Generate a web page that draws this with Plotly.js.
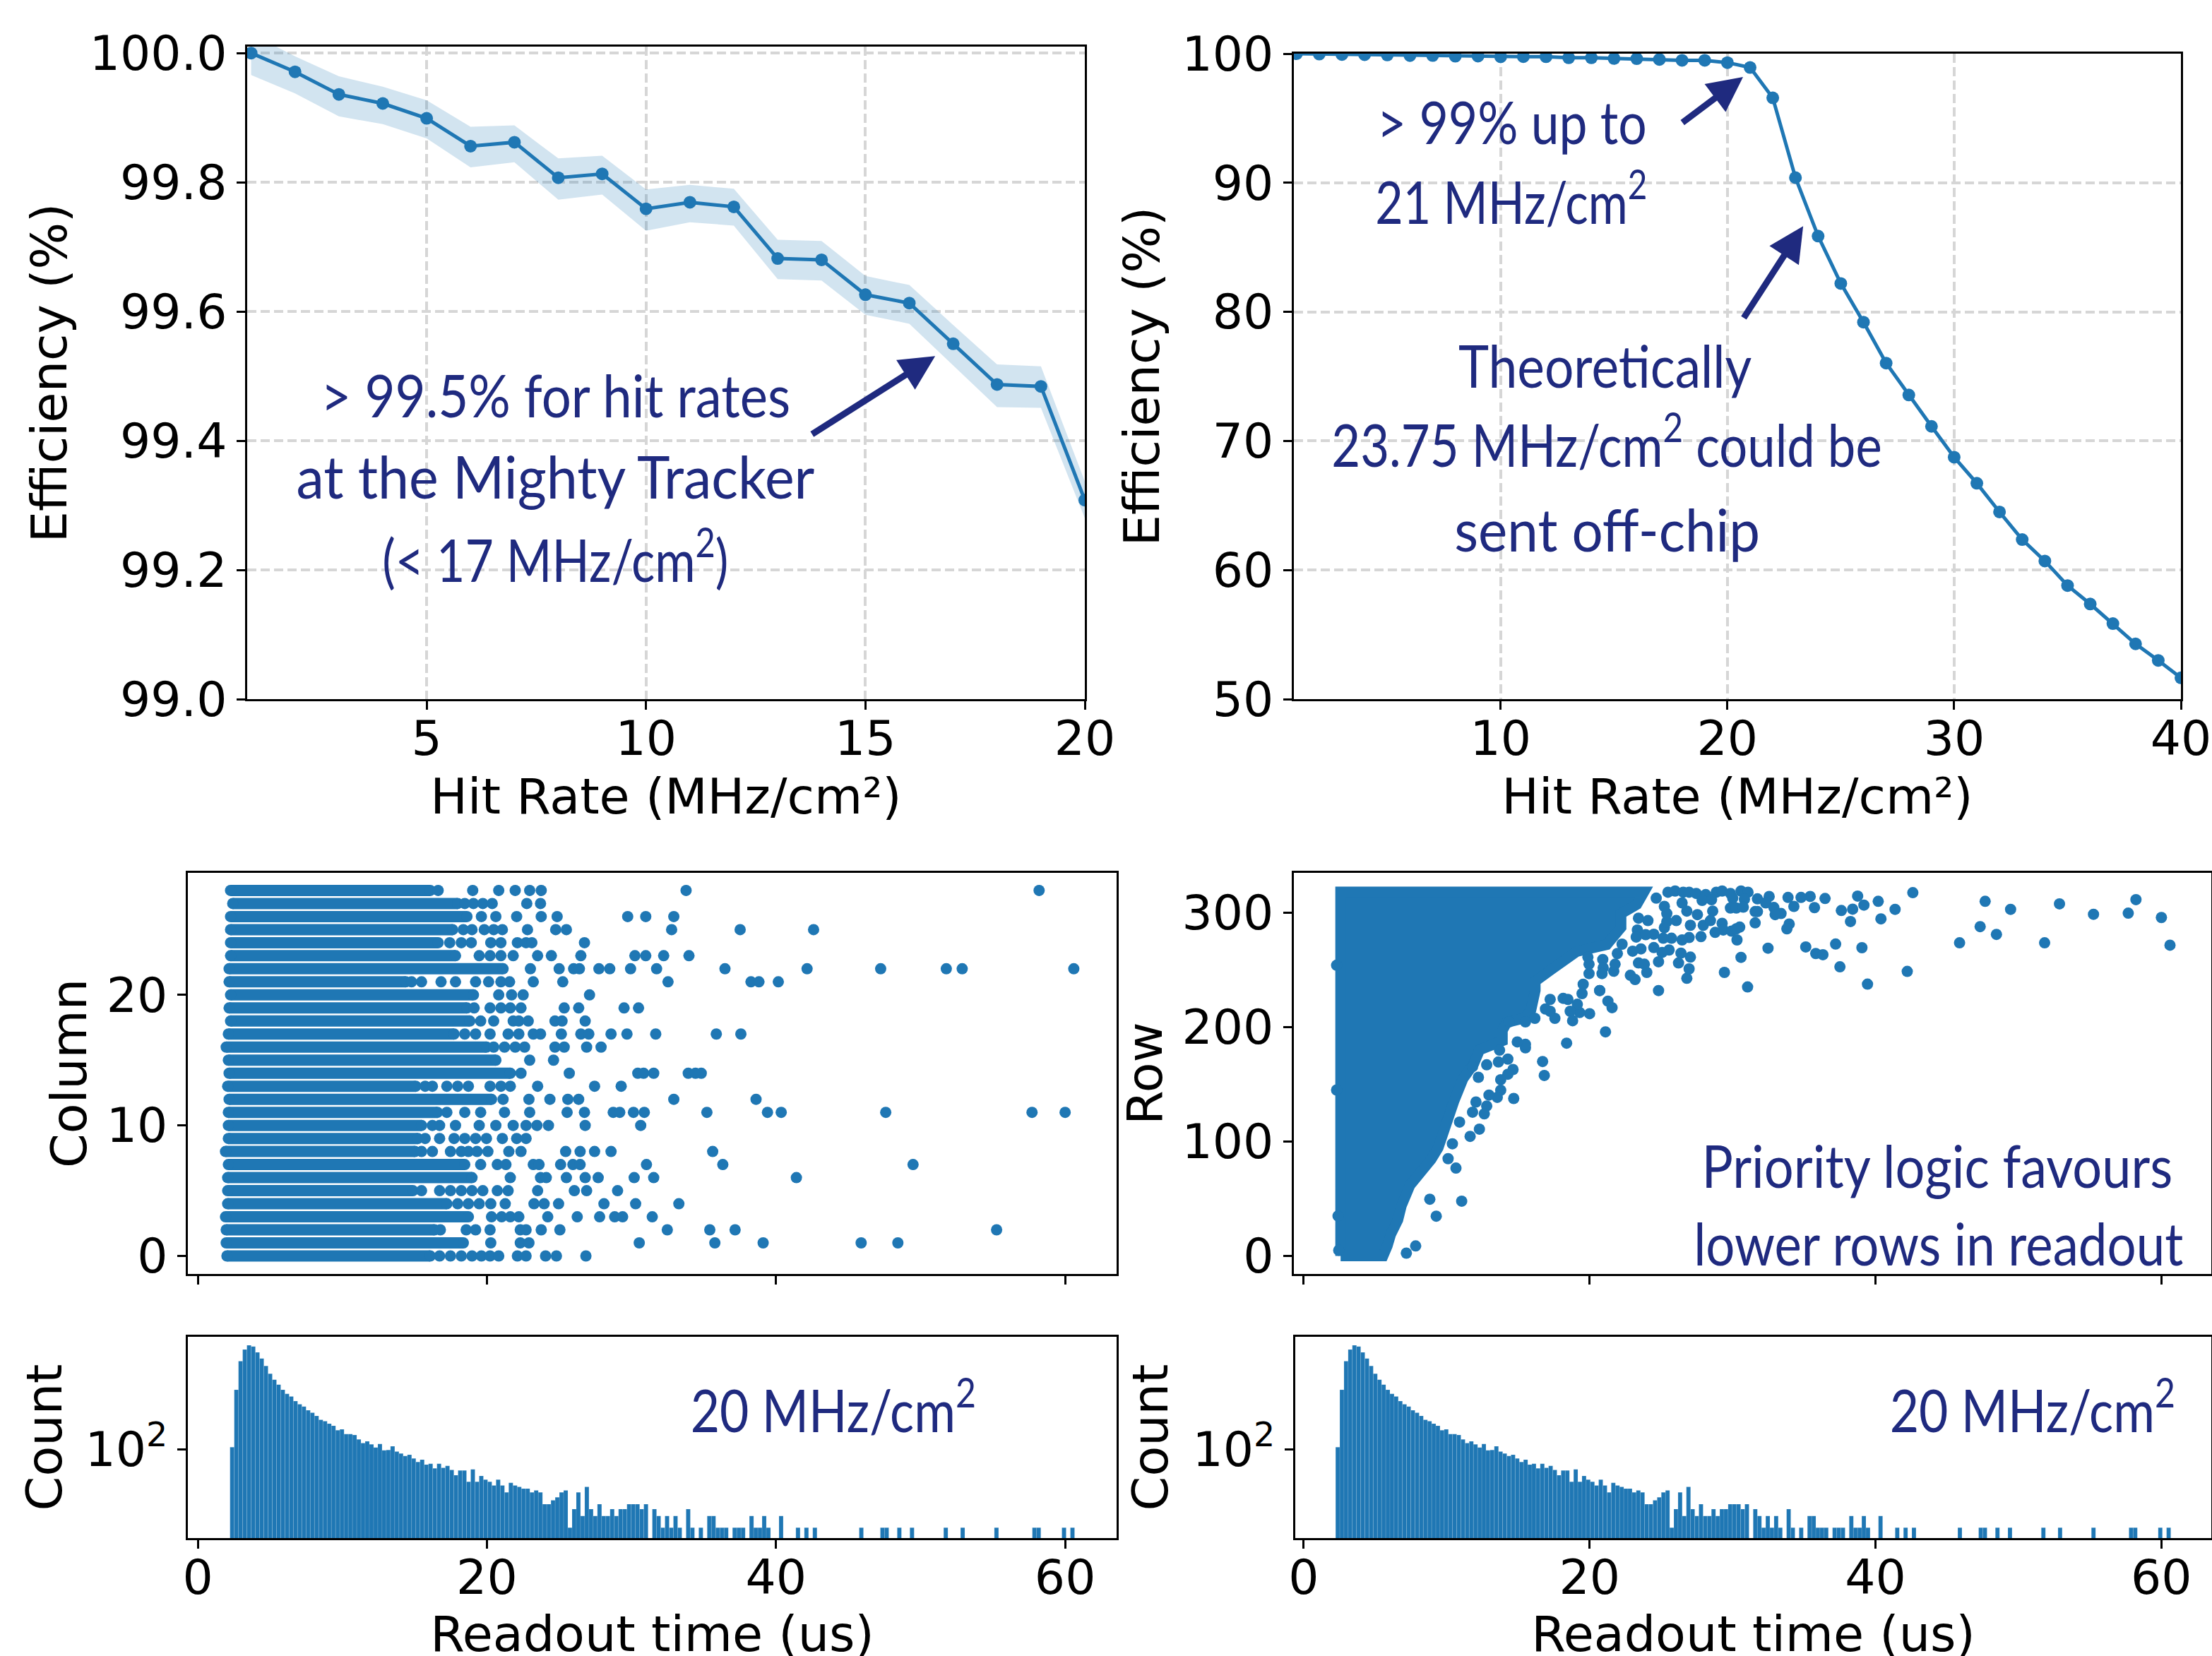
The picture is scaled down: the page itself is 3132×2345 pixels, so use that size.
<!DOCTYPE html>
<html>
<head>
<meta charset="utf-8">
<script src="https://cdn.plot.ly/plotly-3.0.1.min.js"></script>
<style>html,body{margin:0;padding:0;background:#fff}#chart{width:3132px;height:2345px}
.g-x5title text,.g-x6title text{transform:translateY(10px)}</style>
</head>
<body>
<div id="chart"></div>
<script>
// ---- Efficiency panels ----
const rateLow = [1,2,3,4,5,6,7,8,9,10,11,12,13,14,15,16,17,18,19,20];
const effLow = [100.0,99.971,99.936,99.922,99.899,99.856,99.862,99.807,99.813,99.759,99.769,99.762,99.682,99.680,99.626,99.613,99.550,99.487,99.484,99.308];
const effLowUpper = [100.03,99.995,99.964,99.948,99.927,99.886,99.888,99.837,99.841,99.789,99.796,99.79,99.711,99.709,99.655,99.641,99.579,99.518,99.515,99.337];
const effLowLower = [99.966,99.9375,99.902,99.89,99.868,99.823,99.831,99.773,99.781,99.725,99.738,99.733,99.65,99.648,99.595,99.581,99.517,99.452,99.451,99.28];
const rateHigh = [1,2,3,4,5,6,7,8,9,10,11,12,13,14,15,16,17,18,19,20,21,22,23,24,25,26,27,28,29,30,31,32,33,34,35,36,37,38,39,40];
const effHigh = [100.0,99.971,99.936,99.922,99.899,99.856,99.862,99.807,99.813,99.759,99.769,99.762,99.682,99.680,99.626,99.613,99.550,99.487,99.484,99.308,98.93,96.58,90.4,85.87,82.2,79.2,76.03,73.56,71.13,68.74,66.72,64.5,62.36,60.7,58.8,57.37,55.85,54.28,53.0,51.65];

// ---- Column vs readout time ----
const columns = [0,1,2,3,4,5,6,7,8,9,10,11,12,13,14,15,16,17,18,19,20,21,22,23,24,25,26,27,28];
const colDenseStart = [2.02,1.97,1.97,1.92,2.07,2.07,2.07,2.12,1.92,2.12,2.12,2.12,2.17,2.07,2.17,2.12,1.97,2.12,2.27,2.17,2.27,2.17,2.17,2.27,2.27,2.27,2.27,2.42,2.27];
const colDenseEnd = [16.08,18.37,16.38,18.72,17.23,14.88,18.97,18.47,15.03,15.23,15.48,16.58,20.32,15.08,21.62,20.62,19.97,17.73,18.82,18.62,19.07,14.39,21.12,17.83,16.63,17.63,18.62,17.98,16.08];
const colOutliers = [
 [16.73,17.48,18.23,18.97,19.62,20.22,20.82,22.11,22.71,24.06,24.81,26.85],
 [20.27,22.31,22.91,30.54,35.77,39.11,45.89,48.43],
 [16.78,18.57,19.22,20.22,22.31,22.71,23.76,25.05,32.48,35.42,37.17,55.26],
 [20.32,21.02,21.62,22.21,24.21,26.25,27.8,28.84,29.39,31.44],
 [17.98,18.72,19.47,20.27,21.27,23.26,23.96,24.96,28.1,30.29,33.28],
 [15.48,16.73,17.48,18.23,18.97,19.72,20.72,21.47,23.51,26.05,26.9,29.04],
 [21.62,23.71,24.11,25.5,26.8,27.7,30.19,31.54,41.41],
 [19.57,20.72,21.32,23.21,23.61,25.1,25.95,26.45,31.04,36.32,49.48],
 [15.48,16.23,17.48,18.23,18.72,19.32,20.07,21.52,22.36,25.45,26.45,27.45,28.59,35.62],
 [15.73,16.73,17.73,18.47,19.22,19.97,21.07,22.06,22.71],
 [16.23,16.73,17.83,19.47,20.62,21.82,22.71,23.46,24.26,26.8,30.64],
 [17.23,18.47,19.57,21.22,22.96,25.55,26.75,28.74,29.19,30.14,30.89,35.22,39.41,40.36,47.59,57.71,60.0],
 [21.12,22.91,24.36,25.6,26.35,32.93,38.62],
 [15.73,16.23,17.23,17.98,18.72,20.22,20.97,21.62,23.51,27.45,29.29],
 [22.36,25.7,30.44,30.84,31.54,33.93,34.43,34.83],
 [22.96,24.61],
 [20.47,21.22,21.96,22.61,24.71,25.35,26.9,27.9],
 [18.47,19.22,20.22,21.47,22.21,23.21,23.71,25.15,26.5,27.05,28.59,29.69,31.68,35.87,37.57],
 [19.57,20.47,21.82,22.21,22.86,24.71,25.2,26.8],
 [19.12,20.22,20.97,21.62,22.36,25.35,26.35,29.49,30.49],
 [20.82,21.71,22.51,27.1],
 [14.79,15.48,16.83,17.83,19.22,20.12,20.97,21.57,23.21,25.25,32.53,38.27,38.82,40.16],
 [23.01,25.0,26.0,26.4,27.75,28.5,29.94,31.74,36.47,42.15,47.24,51.78,52.88,60.6],
 [19.47,20.22,20.97,21.82,23.51,24.46,26.5,30.24,30.99,32.23,33.98],
 [17.43,18.23,18.92,20.27,20.97,22.11,22.71,23.11,26.75],
 [18.37,18.97,19.82,20.47,21.07,22.81,24.76,25.5,32.78,37.52,42.6],
 [19.62,20.62,22.06,23.76,24.86,29.74,30.99,32.93],
 [18.47,19.07,19.72,20.37,22.76,23.71],
 [16.63,19.02,20.82,21.96,22.96,23.76,33.78,58.2]
];

// ---- Row vs readout time ----
const rowDenseEdgeTime = [2.58,5.55,5.85,6.09,6.59,6.84,7.43,8.18,8.92,9.41,9.66,10.01,10.5,11.15,11.9,12.3,13.9,13.9,14.2,15.5,15.9,16.2,16.2,17.3,18.3,19.1,21.2,22.2,22.2,23.3,23.8,2.58,2.58];
const rowDenseEdgeRow = [0,0,8.8,18.9,31.5,44.1,61.7,71.8,84.4,94.5,104.5,117.1,134.8,154.9,168,180,188,197,204,208,215,232,240,250,258,266,272,287,299,307,318,318,0];
const rowPointTime = [42.61,38.75,40.19,39.19,36.47,35.43,35.73,37.61,38.4,41.37,38.25,40.38,47.67,49.45,52.87,55.25,57.68,58.22,60.0,60.6,47.32,48.46,45.88,51.83,37.21,39.05,35.82,36.32,37.51,42.22,39.44,11.05,9.27,8.82,7.83,7.18,10.65,12.29,11.64,10.9,10.4,10.1,2.3,2.3,2.4,2.45,
 25.48,25.98,26.55,26.96,27.46,28.12,28.86,29.27,29.85,30.59,31.08,31.74,32.56,33.88,34.79,27.87,28.53,30.01,30.83,32.32,32.89,33.39,32.98,34.29,31.58,31.74,29.85,30.26,30.75,28.61,26.8,26.47,26.06,27.05,27.54,27.95,28.45,29.27,28.78,29.35,29.93,30.5,30.26,31.58,33.96,33.8,27.79,26.96,26.47,25.73,25.15,25.23,25.4,24.49,23.34,23.26,23.92,30.31,32.48,35.12,30.59,29.43,31.05,26.8,26.96,27.05,26.39,26.22,24.82,25.56,25.07,24.49,23.59,23.01,23.42,23.83,24.0,22.85,23.18,21.69,21.78,20.92,20.95,20.87,19.96,19.96,19.88,20.71,24.82,19.55,24.66,25.23,25.4,24.08,23.42,22.27,21.94,
 20.7,21.28,21.57,21.11,18.39,16.71,16.83,20.0,19.3,19.14,18.64,18.81,17.57,17.24,16.91,17.24,18.15,18.48,19.47,15.51,15.51,14.94,14.28,13.62,14.64,14.28,13.78,13.78,13.54,12.96,14.69,12.8,12.63,11.81,12.05,12.22,12.8,11.81,16.17,15.51,14.36,13.7];
const rowPointRow = [317.4,314.4,309.8,306.5,312.3,314.1,304.3,301.8,303,302.8,292.2,294.5,309.8,302.8,307.6,298.5,299.5,311.3,295.7,271.5,287.7,280.9,273.6,273.6,272.5,269.3,264.2,263.2,252.6,248.6,237.5,47.9,34.8,49.6,8.8,2.5,76.8,110.8,104.5,117,98,85,254,145,35,5,
 317.8,318.8,317.8,317.8,316.7,315.7,317.8,318.8,316.7,318.8,317.8,312,314.1,313.2,313.2,310.6,311.2,312.6,311.6,308.5,304.4,299.2,298.2,305.4,300.9,300.9,304,304,304.8,301.3,301.3,308.5,293,288.9,298.2,288.9,293,290.6,282.7,284.8,283.8,287.3,285.8,291,290,285.8,279,278.2,276.1,277.6,277.6,286.9,292,281.1,284.8,278.6,280.7,276.1,268.9,270,260.9,247.7,235,242.6,250.8,261.1,264.6,256,257,267.3,265.2,269.4,268.3,266.3,256,254.9,247.7,245.2,241.5,248.8,254.9,259,251.8,246.7,246.7,254.9,261.1,231.9,231.9,237.4,312.6,305.4,299.2,293,295.1,272.4,264.2,
 231.9,222.6,216.9,195.8,185.9,169.9,157.7,211.7,212.7,219.9,213.8,205.5,207.6,213.8,215.8,224.1,225.1,224.1,229.2,181.8,184.9,187,172,169.5,162.9,158.8,154,144.8,138.6,140.6,137.6,131,124.2,125.6,134.5,156.1,167,165.4,207.6,204.5,204.5,179.8];

// ---- Readout-time histogram (200 bins, first left edge 2.233 us, width 0.2921 us) ----
const histFirstEdge = 2.233;
const histBinWidth = 0.2921;
const histCounts = [114,3340,18100,35700,45800,42700,30300,21100,13600,8600,6080,4540,3340,2640,2270,1720,1430,1250,1000,870,718,575,530,455,402,309,326,248,248,234,180,146,161,135,112,138,95,97,120,88,79,68,73,59,48,55,41,43,33,43,
 34,38,30,22,29,29,15,31,15,21,17,15,12,17,12,8,14,12,11,10,10,8,9,8,4,4,5,6,8,9,1,3,8,2,11,3,2,4,2,2,3,2,3,3,4,4,4,3,
 4,0,3,2,1,2,1,2,1,0,3,1,0,1,0,2,2,1,1,1,0,1,1,1,0,2,1,1,2,1,0,0,2,0,0,0,1,0,1,0,1,
 0,0,0,0,0,0,0,0,0,0,1,0,0,0,0,1,1,0,0,1,0,0,1,0,0,0,0,0,0,0,1,0,0,0,1,0,0,0,0,0,0,0,1,0,0,0,0,0,0,0,0,1,1,0,0,0,0,0,1,0,1];

// ---- Tick labels ----
const ticksRateLow = [5,10,15,20];
const ticksEffLow = [99.0,99.2,99.4,99.6,99.8,100.0];
const ticksRateHigh = [10,20,30,40];
const ticksEffHigh = [50,60,70,80,90,100];
const ticksTime = [0,20,40,60];
const ticksColumn = [0,10,20];
const ticksRow = [0,100,200,300];
const ticksCount = [100];
const tickTextCount = ['10<sup>2</sup>'];

// ---- Handwritten notes ----
const noteTexts = ['> 99.5% for hit rates','at the Mighty Tracker','(< 17 MHz/cm<sup>2</sup>)','> 99% up to','21 MHz/cm<sup>2</sup>','Theoretically','23.75 MHz/cm<sup>2</sup> could be','sent off-chip','Priority logic favours','lower rows in readout','20 MHz/cm<sup>2</sup>','20 MHz/cm<sup>2</sup>'];

// ---- Presentation ----
const notePlacement = [[786,558,.885],[786,673,.94],[786,786,.83],[2140,171,.85],[2140,279,.81],[2272,517,.87],[2275,624,.84],[2275,748,.93],[2743,1649,.88],[2744,1759,.865],[1180,1990,.85],[2878,1990,.85]];
const noteColor = '#1f2a7f';
const W = 3132, H = 2345;
const blue = '#1f77b4';
const fontFamily = '"DejaVu Sans", sans-serif';
const dotSize = 16;

function dom(a, b, size, flip) { return flip ? [1 - b / size, 1 - a / size] : [a / size, b / size]; }

function axis(opts) {
  return Object.assign({
    showline: true, mirror: true, linecolor: '#000', linewidth: 3,
    ticks: 'outside', ticklen: 12, tickwidth: 3, tickcolor: '#000',
    tickmode: 'array', zeroline: false, showgrid: false,
    tickfont: {family: fontFamily, size: 68, color: '#000'}, automargin: false
  }, opts);
}
const grid = {showgrid: true, gridcolor: '#d6d6d6', gridwidth: 4, griddash: '13px,6px'};
function ttl(text, standoff) { return {text: text, standoff: standoff, font: {family: fontFamily, size: 70, color: '#000'}}; }

const traces = [];
traces.push({x: rateLow.concat(rateLow.slice().reverse()), y: effLowUpper.concat(effLowLower.slice().reverse()),
  type: 'scatter', mode: 'lines', fill: 'toself', fillcolor: 'rgba(31,119,180,0.2)', line: {width: 0}, xaxis: 'x', yaxis: 'y', hoverinfo: 'skip'});
traces.push({x: rateLow, y: effLow, type: 'scatter', mode: 'lines+markers', line: {color: blue, width: 5}, marker: {color: blue, size: 18}, xaxis: 'x', yaxis: 'y'});
traces.push({x: rateHigh, y: effHigh, type: 'scatter', mode: 'lines+markers', line: {color: blue, width: 5}, marker: {color: blue, size: 18}, xaxis: 'x2', yaxis: 'y2'});
const bandX = [], bandY = [], dotX = [], dotY = [];
columns.forEach((c, i) => {
  bandX.push(colDenseStart[i], colDenseEnd[i], null);
  bandY.push(c, c, null);
  colOutliers[i].forEach(t => { dotX.push(t); dotY.push(c); });
});
traces.push({x: bandX, y: bandY, type: 'scatter', mode: 'lines+markers', line: {color: blue, width: dotSize}, marker: {color: blue, size: dotSize}, xaxis: 'x3', yaxis: 'y3'});
traces.push({x: dotX, y: dotY, type: 'scatter', mode: 'markers', marker: {color: blue, size: dotSize}, xaxis: 'x3', yaxis: 'y3'});
traces.push({x: rowDenseEdgeTime, y: rowDenseEdgeRow, type: 'scatter', mode: 'lines', fill: 'toself', fillcolor: blue, line: {color: blue, width: 15, shape: 'linear'}, xaxis: 'x4', yaxis: 'y4'});
traces.push({x: rowPointTime, y: rowPointRow, type: 'scatter', mode: 'markers', marker: {color: blue, size: dotSize}, xaxis: 'x4', yaxis: 'y4'});
const histX = histCounts.map((_, i) => histFirstEdge + (i + 0.5) * histBinWidth);
const histY = histCounts.map(v => v > 0 ? v : null);
[['x5', 'y5'], ['x6', 'y6']].forEach(a => {
  traces.push({x: histX, y: histY, type: 'bar', width: histBinWidth, marker: {color: blue, line: {color: 'rgba(255,255,255,0.12)', width: 1}}, xaxis: a[0], yaxis: a[1]});
});

const annotations = noteTexts.map((t, i) => ({
  text: t, xref: 'paper', yref: 'paper', x: notePlacement[i][0] / W, y: 1 - notePlacement[i][1] / H, xanchor: 'center', yanchor: 'middle', showarrow: false,
  font: {family: '"Lato", sans-serif', size: 84, color: noteColor}
}));
const arrows = [
  {xref: 'x', yref: 'y', x: 16.59, y: 99.531, ax: 13.76, ay: 99.409},
  {xref: 'x2', yref: 'y2', x: 20.69, y: 98.19, ax: 17.97, ay: 94.6},
  {xref: 'x2', yref: 'y2', x: 23.34, y: 86.64, ax: 20.69, ay: 79.45}
];
arrows.forEach(a => annotations.push(Object.assign({
  axref: a.xref, ayref: a.yref, text: '', showarrow: true, arrowhead: 2, arrowsize: 1.1, arrowwidth: 9, arrowcolor: noteColor
}, a)));

const xlab = {ticklabelstandoff: -18};
const layout = {
  width: W, height: H, margin: {l: 0, r: 0, t: 0, b: 0}, paper_bgcolor: '#fff', plot_bgcolor: '#fff',
  showlegend: false, bargap: 0, annotations: annotations,
  xaxis: axis(Object.assign({domain: dom(350, 1536, W), range: [0.91, 20], tickvals: ticksRateLow, anchor: 'y', title: ttl('Hit Rate (MHz/cm²)', 20)}, grid, xlab)),
  yaxis: axis(Object.assign({domain: dom(66, 990, H, true), range: [99, 100.01], tickvals: ticksEffLow, ticktext: ticksEffLow.map(v => v.toFixed(1)), anchor: 'x', title: ttl('Efficiency (%)', 10)}, grid)),
  xaxis2: axis(Object.assign({domain: dom(1832, 3088, W), range: [0.88, 40], tickvals: ticksRateHigh, anchor: 'y2', title: ttl('Hit Rate (MHz/cm²)', 20)}, grid, xlab)),
  yaxis2: axis(Object.assign({domain: dom(76, 990, H, true), range: [50, 100], tickvals: ticksEffHigh, anchor: 'x2', title: ttl('Efficiency (%)', 10)}, grid)),
  xaxis3: axis({domain: dom(266, 1581, W), range: [-0.684, 63.56], tickvals: ticksTime, showticklabels: false, anchor: 'y3'}),
  yaxis3: axis({domain: dom(1236, 1804, H, true), range: [-1.38, 29.35], tickvals: ticksColumn, anchor: 'x3', title: ttl('Column', 6)}),
  xaxis4: axis({domain: dom(1832, 3131, W), range: [-0.69, 63.49], tickvals: ticksTime, showticklabels: false, anchor: 'y4'}),
  yaxis4: axis({domain: dom(1236, 1804, H, true), range: [-15.7, 334.7], tickvals: ticksRow, anchor: 'x4', title: ttl('Row', 6)}),
  xaxis5: axis(Object.assign({domain: dom(266, 1581, W), range: [-0.684, 63.56], tickvals: ticksTime, anchor: 'y5', title: ttl('Readout time (us)', 56)}, xlab)),
  yaxis5: axis({domain: dom(1893, 2178, H, true), type: 'log', range: [-0.265, 4.879], tickvals: ticksCount, ticktext: tickTextCount, anchor: 'x5', title: ttl('Count', 11)}),
  xaxis6: axis(Object.assign({domain: dom(1834, 3131, W), range: [-0.59, 63.49], tickvals: ticksTime, anchor: 'y6', title: ttl('Readout time (us)', 56)}, xlab)),
  yaxis6: axis({domain: dom(1893, 2178, H, true), type: 'log', range: [-0.265, 4.879], tickvals: ticksCount, ticktext: tickTextCount, anchor: 'x6', title: ttl('Count', 13)})
};
Plotly.newPlot('chart', traces, layout, {displayModeBar: false, staticPlot: true}).then(function () {
  // The handwritten lettering of the reference is narrower than any installed face.
  document.querySelectorAll('.annotation').forEach(function (g) {
    const i = +g.getAttribute('data-index');
    const t = g.querySelector('.annotation-text');
    if (t && notePlacement[i]) {
      t.style.transformBox = 'fill-box';
      t.style.transformOrigin = 'center';
      t.style.transform = 'scaleX(' + notePlacement[i][2] + ')';
    }
  });
});
</script>
</body>
</html>
